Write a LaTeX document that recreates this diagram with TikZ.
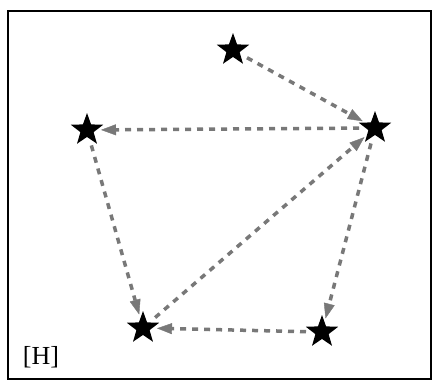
\documentclass[tikz,border=0pt]{standalone}
\usepackage{fontspec}
\setmainfont{Liberation Serif}
\usetikzlibrary{shapes.geometric,arrows.meta}
\definecolor{dashgray}{RGB}{120,120,120}
\begin{document}
\begin{tikzpicture}[x=1pt,y=-1pt,
  starnode/.style={star, star points=5, star point ratio=2.45, fill=black, draw=none, minimum size=34pt, inner sep=0pt},
  link/.style={draw=dashgray, line width=3.5pt, dash pattern=on 6pt off 6pt,
    shorten <=16pt, shorten >=14pt,
    -{Triangle[length=15pt,width=11pt,line width=0.4pt,fill=dashgray]}}]
\useasboundingbox (0,0) rectangle (435,381);
\draw[line width=2.2pt] (8,11) rectangle (431,379);
\node[starnode] (A) at (233,50) {};
\node[starnode] (B) at (375,128) {};
\node[starnode] (C) at (87,130) {};
\node[starnode] (D) at (143,328) {};
\node[starnode] (E) at (322,332) {};
\node[font=\fontsize{26}{26}\selectfont, inner sep=0pt] (H) at (41,357) {[H]};
\draw[link] (A.center) -- (B.center);
\draw[link] (B.center) -- (C.center);
\draw[link] (C.center) -- (D.center);
\draw[link] (D.center) -- (B.center);
\draw[link] (B.center) -- (E.center);
\draw[link] (E.center) -- (D.center);
\end{tikzpicture}
\end{document}
